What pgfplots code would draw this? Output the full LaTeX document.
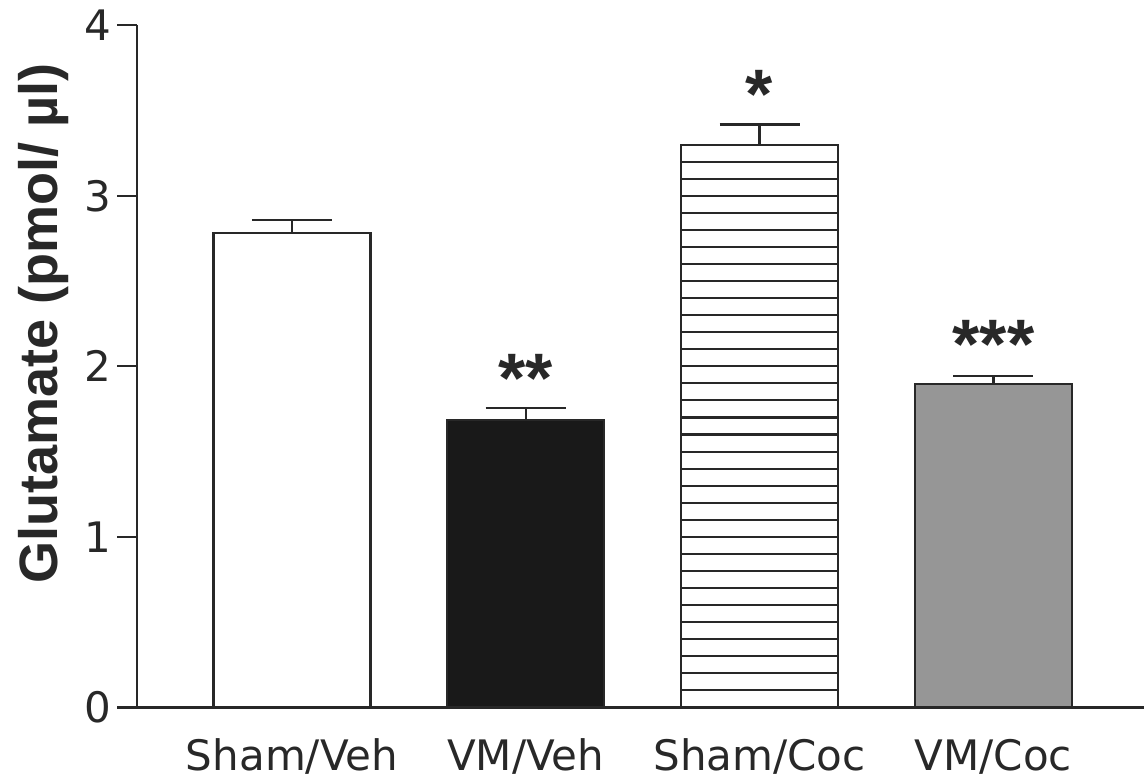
\documentclass[border=0pt]{standalone}
\usepackage{pgfplots}
\pgfplotsset{compat=1.18}
\usepackage{fontspec}
\setmainfont{DejaVu Sans}
\newfontfamily\lab{Liberation Sans}
\definecolor{barblack}{RGB}{25,25,25}
\definecolor{bargray}{RGB}{150,150,150}
\definecolor{axcol}{RGB}{40,40,40}
\begin{document}
\begin{tikzpicture}
\begin{axis}[
  scale only axis,
  width=359.6pt, height=243.6pt,
  xmin=-0.663, xmax=3.644, ymin=0, ymax=4,
  axis lines*=left,
  axis line style={axcol, line width=0.8pt},
  ytick={0,1,2,3,4},
  xtick={0,1,2,3},
  xticklabels={Sham/Veh, VM/Veh, Sham/Coc, VM/Coc},
  tick align=outside,
  major tick length=7pt,
  ytick style={axcol, line width=0.8pt},
  xtick style={draw=none},
  /pgf/number format/assume math mode=true,
  tick label style={font=\fontsize{15pt}{18pt}\selectfont, text=axcol},
  xticklabel style={anchor=base, yshift=-15.4pt},
  yticklabel style={anchor=east, xshift=1.5pt},
  ylabel={\lab\bfseries\fontsize{19.3pt}{22pt}\selectfont Glutamate (pmol/ µl)},
  every axis y label/.style={at={(axis description cs:0,0.563)}, xshift=-33.3pt, rotate=90, anchor=center, text=axcol, inner ysep=7.6pt},
  ybar, bar width=0.672, bar shift=0pt,
  error bars/y dir=plus, error bars/y explicit,
  error bars/error bar style={axcol, line width=0.8pt},
  error bars/error mark options={axcol, line width=0.8pt, mark size=14.3pt, rotate=90},
  clip=false,
]
\addplot[draw=axcol, line width=0.8pt, fill=white] coordinates {(0,2.781) +- (0,0.076)};
\addplot[draw=axcol, line width=0.8pt, fill=barblack] coordinates {(1,1.685) +- (0,0.071)};
\addplot[draw=axcol, line width=0.8pt, fill=white] coordinates {(2,3.297) +- (0,0.121)};
\pgfplotsinvokeforeach{1,...,32}{
  \draw[axcol, line width=0.75pt] (axis cs:1.664,{#1/10}) -- (axis cs:2.336,{#1/10});
}
\addplot[draw=axcol, line width=0.8pt, fill=bargray] coordinates {(3,1.896) +- (0,0.049)};
\node[anchor=base, font=\lab\bfseries\fontsize{25pt}{28pt}\selectfont, text=axcol, inner sep=0pt] at (axis cs:1,1.785) {**};
\node[anchor=base, font=\lab\bfseries\fontsize{25pt}{28pt}\selectfont, text=axcol, inner sep=0pt] at (axis cs:2,3.455) {*};
\node[anchor=base, font=\lab\bfseries\fontsize{25pt}{28pt}\selectfont, text=axcol, inner sep=0pt] at (axis cs:3,1.985) {***};
\end{axis}
\pgfresetboundingbox
\path ([xshift=-48.9pt, yshift=-26pt]current axis.south west) rectangle ([yshift=9pt]current axis.north east);
\end{tikzpicture}
\end{document}
